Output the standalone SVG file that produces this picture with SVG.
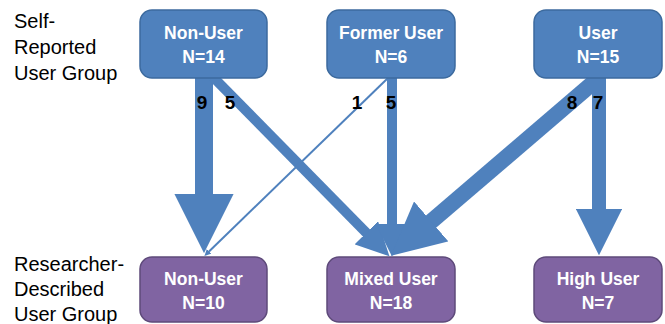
<svg xmlns="http://www.w3.org/2000/svg" width="665" height="324" viewBox="0 0 665 324">
<style>
.lbl{font-family:"Liberation Sans",Arial,sans-serif;font-size:20px;fill:#000}
.box-top{fill:#4F81BD;stroke:#3C6A9E;stroke-width:1.5}
.box-bot{fill:#8064A2;stroke:#5E4A7A;stroke-width:1.5}
.bt{font-family:"Liberation Sans",Arial,sans-serif;font-size:17.5px;font-weight:bold;fill:#fff;text-anchor:middle}
.num{font-family:"Liberation Sans",Arial,sans-serif;font-size:19px;font-weight:bold;fill:#000;text-anchor:middle}
.arr{stroke:#4F81BD;fill:none;stroke-linecap:butt;marker-end:url(#head)}
</style>
<defs>
<marker id="head" viewBox="0 0 10 10" refX="0.3" refY="5" markerWidth="3.3" markerHeight="3.3" orient="auto" markerUnits="strokeWidth">
<path d="M0,0 L10,5 L0,10 Z" fill="#4F81BD"/>
</marker>
</defs>
<g id="label-self">
<text class="lbl" x="14" y="28">Self-</text>
<text class="lbl" x="14" y="54">Reported</text>
<text class="lbl" x="14" y="80">User Group</text>
</g>
<g id="label-researcher">
<text class="lbl" x="14" y="271">Researcher-</text>
<text class="lbl" x="14" y="296">Described</text>
<text class="lbl" x="14" y="321">User Group</text>
</g>
<g id="connectors">
<line class="arr" x1="204" y1="78" x2="204" y2="195.5" stroke-width="18"/>
<line class="arr" x1="213" y1="77" x2="367" y2="233.5" stroke-width="10"/>
<line class="arr" x1="388" y1="78" x2="209" y2="251.5" stroke-width="2"/>
<line class="arr" x1="392" y1="78" x2="392" y2="224.5" stroke-width="10"/>
<line class="arr" x1="601" y1="76" x2="430" y2="222.5" stroke-width="16"/>
<line class="arr" x1="599" y1="78" x2="599" y2="210.5" stroke-width="14"/>
<text class="num" x="202" y="109">9</text>
<text class="num" x="230" y="109">5</text>
<text class="num" x="357" y="109">1</text>
<text class="num" x="391" y="109">5</text>
<text class="num" x="572" y="109">8</text>
<text class="num" x="598" y="109">7</text>
</g>
<g id="top-nonuser">
<rect class="box-top" x="140" y="10" width="127" height="68" rx="12"/>
<text class="bt" x="203.5" y="39">Non-User</text>
<text class="bt" x="203.5" y="63">N=14</text>
</g>
<g id="top-former">
<rect class="box-top" x="327" y="10" width="128" height="68" rx="12"/>
<text class="bt" x="391" y="39">Former User</text>
<text class="bt" x="391" y="63">N=6</text>
</g>
<g id="top-user">
<rect class="box-top" x="534" y="10" width="128" height="68" rx="12"/>
<text class="bt" x="598" y="39">User</text>
<text class="bt" x="598" y="63">N=15</text>
</g>
<g id="bot-nonuser">
<rect class="box-bot" x="140" y="257" width="127" height="65" rx="12"/>
<text class="bt" x="203.5" y="285">Non-User</text>
<text class="bt" x="203.5" y="309">N=10</text>
</g>
<g id="bot-mixed">
<rect class="box-bot" x="327" y="257" width="128" height="65" rx="12"/>
<text class="bt" x="391" y="285">Mixed User</text>
<text class="bt" x="391" y="309">N=18</text>
</g>
<g id="bot-high">
<rect class="box-bot" x="534" y="257" width="128" height="65" rx="12"/>
<text class="bt" x="598" y="285">High User</text>
<text class="bt" x="598" y="309">N=7</text>
</g>
</svg>
